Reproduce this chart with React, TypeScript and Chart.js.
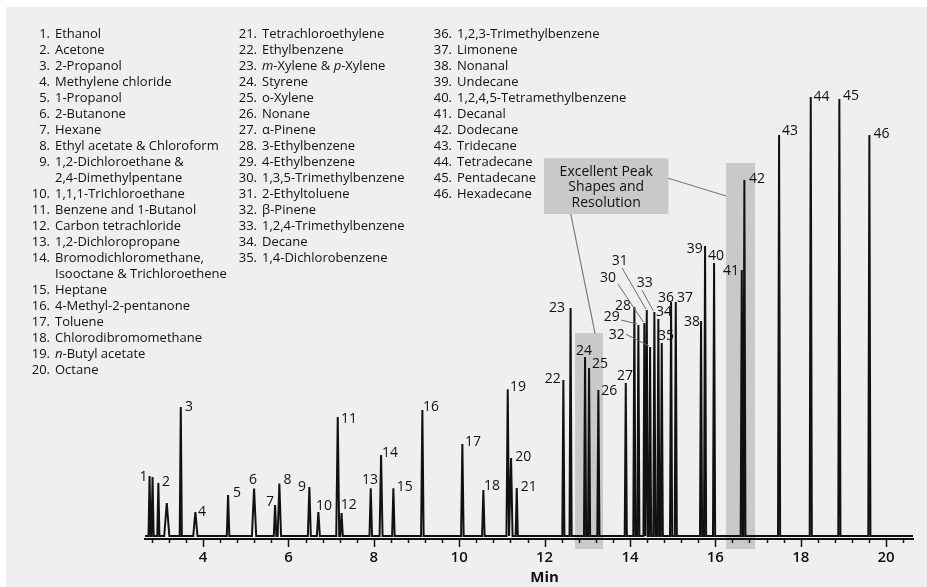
import React, { useEffect, useRef } from 'react';
import { Chart, registerables } from 'chart.js';

Chart.register(...registerables);

// ---------- DATA ----------
// Peak identifiers ('' = unlabeled peak)
const peakLabels = [
  '1', '', '2', '', '3', '4', '5', '6', '7', '8', '9', '10', '11', '12', '13', '14', '15', '16', '17', '18',
  '19', '20', '21', '22', '23', '24', '25', '26', '27', '28', '29', '30', '31', '32', '33', '34', '35', '36',
  '37', '38', '39', '40', '41', '42', '43', '44', '45', '46',
];
// Retention times (min)
const retentionTimes = [
  2.747, 2.817, 2.953, 3.15, 3.478, 3.82, 4.586, 5.195, 5.687, 5.787, 6.49, 6.701, 7.155, 7.244, 7.928, 8.17,
  8.458, 9.137, 10.074, 10.566, 11.137, 11.215, 11.348, 12.44, 12.609, 12.948, 13.042, 13.26, 13.902, 14.103,
  14.197, 14.337, 14.394, 14.471, 14.572, 14.665, 14.745, 14.963, 15.073, 15.665, 15.759, 15.97, 16.619, 16.68,
  17.493, 18.235, 18.905, 19.608,
];
// Peak heights (detector response, arbitrary units)
const peakHeights = [
  60, 59, 53, 33, 129, 24, 41, 47.5, 31, 52.5, 49, 24, 119, 23, 47.7, 81, 47.7, 126, 92, 46, 146.7, 78, 48, 156,
  228, 179, 168, 146, 153, 229, 211, 213, 226, 189, 224, 217, 193, 234, 234, 215, 290, 273, 266, 356, 401, 439,
  437, 401,
];
// Peak half-widths at base (min)
const peakHalfWidths = [
  0.025, 0.025, 0.025, 0.06, 0.025, 0.05, 0.03, 0.05, 0.03, 0.04, 0.035, 0.035, 0.035, 0.03, 0.03, 0.035, 0.03,
  0.03, 0.03, 0.03, 0.03, 0.035, 0.025, 0.025, 0.025, 0.025, 0.025, 0.025, 0.025, 0.025, 0.025, 0.022, 0.022,
  0.025, 0.025, 0.025, 0.025, 0.025, 0.025, 0.025, 0.025, 0.025, 0.025, 0.025, 0.025, 0.025, 0.025, 0.025,
];

const xMin = 2.64;
const xMax = 20.63;
const majorTicks = [4, 6, 8, 10, 12, 14, 16, 18, 20];
const minorTicks = [
  2.8, 3.2, 3.6, 4.4, 4.8, 5.2, 5.6, 6.4, 6.8, 7.2, 7.6, 8.4, 8.8, 9.2, 9.6, 10.4, 10.8, 11.2, 11.6, 12.4, 12.8,
  13.2, 13.6, 14.4, 14.8, 15.2, 15.6, 16.4, 16.8, 17.2, 17.6, 18.4, 18.8, 19.2, 19.6, 20.4,
];
const axisTitle = 'Min';

// Highlighted regions (min) and their tops (response units)
const highlightStart = [12.714, 16.251];
const highlightEnd = [13.37, 16.93];
const highlightTop = [203, 373];

const calloutLines = ['Excellent Peak', 'Shapes and', 'Resolution'];

const compounds = [
  'Ethanol', 'Acetone', '2-Propanol', 'Methylene chloride', '1-Propanol', '2-Butanone', 'Hexane',
  'Ethyl acetate & Chloroform', '1,2-Dichloroethane &\n2,4-Dimethylpentane', '1,1,1-Trichloroethane',
  'Benzene and 1-Butanol', 'Carbon tetrachloride', '1,2-Dichloropropane',
  'Bromodichloromethane,\nIsooctane & Trichloroethene', 'Heptane', '4-Methyl-2-pentanone', 'Toluene',
  'Chlorodibromomethane', '*n*-Butyl acetate', 'Octane',
  'Tetrachloroethylene', 'Ethylbenzene', '*m*-Xylene & *p*-Xylene', 'Styrene', 'o-Xylene', 'Nonane',
  'α-Pinene', '3-Ethylbenzene', '4-Ethylbenzene', '1,3,5-Trimethylbenzene', '2-Ethyltoluene', 'β-Pinene',
  '1,2,4-Trimethylbenzene', 'Decane', '1,4-Dichlorobenzene',
  '1,2,3-Trimethylbenzene', 'Limonene', 'Nonanal', 'Undecane', '1,2,4,5-Tetramethylbenzene', 'Decanal',
  'Dodecane', 'Tridecane', 'Tetradecane', 'Pentadecane', 'Hexadecane',
];

// ---------- STYLE / LAYOUT ----------
const FONT = '"Open Sans", "DejaVu Sans", sans-serif';
const BG = '#efefef';
const BOX = '#c9c9c9';
const INK = '#111111';

// label centre offsets from peak apex (px)
const labelDX = [
  -6, 0, 7.7, 0, 8.3, 6.7, 9, -1, -5, 8.2, -7.3, 5.7, 11.3, 7.2, -0.7, 9, 11.4, 8.7, 10.7, 8.7, 10.3, 12.3, 12.1,
  -10.5, -13.5, -1, 11, 11, -0.7, -11.3, -26.6, -36.3, -27, -33.3, -9.6, 5.7, 4.3, -5, 9.3, -9, -10.2, 2, -10.7,
  12.7, 11, 10.8, 11.7, 12.2,
];
const labelDY = [
  1.5, 0, -0.5, 0, 0, 0, -2, -8, -3.3, -3.5, 0, -6, 2.3, -8, -8.3, -2, -1.3, -3, -2, -4, -1.8, -0.5, -0.5, -0.5,
  0.5, -5.5, -4, 1.5, -7, -1, -7.5, -44.8, -49, -12.2, -29.2, -6.5, -6.5, -4.2, -4.2, 1.5, 3.5, -7, 1, -1, -4,
  0.5, -2.5, -1,
];
// leader line starts, relative to label centre (px), for labelled peaks that use leaders
const leaderPeaks = ['29', '30', '31', '32', '33'];
const leaderSX = [9.3, 9.7, 2.3, 9.3, -2.7];
const leaderSY = [2.5, 5.5, 7, -0.5, 7.5];

function buildTrace() {
  const order = retentionTimes.map((_, i) => i).sort((a, b) => retentionTimes[a] - retentionTimes[b]);
  const pts: { x: number; y: number }[] = [{ x: xMin, y: 0 }];
  for (const i of order) {
    const t = retentionTimes[i];
    const w = peakHalfWidths[i];
    pts.push({ x: t - w, y: 0 }, { x: t, y: peakHeights[i] }, { x: t + w, y: 0 });
  }
  pts.push({ x: xMax, y: 0 });
  return pts;
}

const overlayPlugin = {
  id: 'overlay',
  beforeDraw(chart: any) {
    const { ctx, scales } = chart;
    const x = scales.x;
    const y = scales.y;
    ctx.save();
    ctx.fillStyle = BOX;
    for (let i = 0; i < highlightStart.length; i++) {
      const x0 = x.getPixelForValue(highlightStart[i]);
      const x1 = x.getPixelForValue(highlightEnd[i]);
      const y0 = y.getPixelForValue(highlightTop[i]);
      const y1 = y.getPixelForValue(-13);
      ctx.fillRect(x0, y0, x1 - x0, y1 - y0);
    }
    ctx.restore();
  },
  afterDatasetsDraw(chart: any) {
    const { ctx, scales } = chart;
    const x = scales.x;
    const y = scales.y;
    ctx.save();
    ctx.font = `14px ${FONT}`;
    ctx.fillStyle = INK;
    ctx.textAlign = 'center';
    ctx.textBaseline = 'middle';
    for (let i = 0; i < peakLabels.length; i++) {
      const lab = peakLabels[i];
      if (!lab) continue;
      const px = x.getPixelForValue(retentionTimes[i]);
      const py = y.getPixelForValue(peakHeights[i]);
      const cx = px + labelDX[i];
      const cy = py + labelDY[i];
      const li = leaderPeaks.indexOf(lab);
      if (li >= 0) {
        ctx.strokeStyle = '#6a6a6a';
        ctx.lineWidth = 1;
        ctx.beginPath();
        ctx.moveTo(cx + leaderSX[li], cy + leaderSY[li]);
        ctx.lineTo(px - 1, py - 1);
        ctx.stroke();
      }
      ctx.fillText(lab, cx, cy);
    }
    ctx.restore();
  },
  afterDraw(chart: any) {
    const { ctx, scales, chartArea } = chart;
    const x = scales.x;
    const y = scales.y;
    const base = chartArea.bottom;
    ctx.save();
    // ticks
    ctx.strokeStyle = INK;
    ctx.lineWidth = 1.5;
    ctx.beginPath();
    for (const v of minorTicks) {
      const px = Math.round(x.getPixelForValue(v)) + 0.5;
      ctx.moveTo(px, base);
      ctx.lineTo(px, base + 4);
    }
    for (const v of majorTicks) {
      const px = Math.round(x.getPixelForValue(v)) + 0.5;
      ctx.moveTo(px, base);
      ctx.lineTo(px, base + 8);
    }
    ctx.stroke();
    // axis title
    ctx.font = `bold 15px ${FONT}`;
    ctx.fillStyle = INK;
    ctx.textAlign = 'center';
    ctx.textBaseline = 'middle';
    ctx.fillText(axisTitle, x.getPixelForValue(12), 578);
    // callout box
    const bx0 = x.getPixelForValue(11.988);
    const bx1 = x.getPixelForValue(14.9);
    const by0 = y.getPixelForValue(377.7);
    const by1 = y.getPixelForValue(322);
    ctx.strokeStyle = '#7a7a7a';
    ctx.lineWidth = 1.2;
    ctx.beginPath();
    ctx.moveTo(x.getPixelForValue(12.613), y.getPixelForValue(322));
    ctx.lineTo(x.getPixelForValue(13.182), y.getPixelForValue(202.7));
    ctx.moveTo(x.getPixelForValue(14.9), y.getPixelForValue(357.7));
    ctx.lineTo(x.getPixelForValue(16.251), y.getPixelForValue(340));
    ctx.stroke();
    ctx.fillStyle = BOX;
    ctx.fillRect(bx0, by0, bx1 - bx0, by1 - by0);
    ctx.fillStyle = INK;
    ctx.font = `14px ${FONT}`;
    const cx = (bx0 + bx1) / 2;
    calloutLines.forEach((line, k) => {
      ctx.fillText(line, cx, by0 + 13.5 + k * 15.5);
    });
    ctx.restore();
  },
};

function renderName(s: string) {
  const parts = s.split('*');
  return parts.map((p, i) => (i % 2 === 1 ? <i key={i}>{p}</i> : <React.Fragment key={i}>{p}</React.Fragment>));
}

function LegendColumn({ start, end, left }: { start: number; end: number; left: number }) {
  const rows = [];
  for (let i = start; i < end; i++) {
    rows.push(
      <div key={i} style={{ display: 'flex', alignItems: 'flex-start' }}>
        <span style={{ width: 30, textAlign: 'right', flex: 'none' }}>{i + 1}.</span>
        <span style={{ marginLeft: 5, whiteSpace: 'pre-line' }}>{renderName(compounds[i])}</span>
      </div>
    );
  }
  return (
    <div
      style={{
        position: 'absolute',
        left,
        top: 25,
        fontFamily: FONT,
        fontSize: 13,
        lineHeight: '16px',
        color: INK,
        whiteSpace: 'nowrap',
      }}
    >
      {rows}
    </div>
  );
}

export default function App() {
  const ref = useRef<HTMLCanvasElement>(null);
  useEffect(() => {
    document.body.style.margin = '0';
    const canvas = ref.current!;
    const chart = new Chart(canvas, {
      type: 'line',
      data: {
        datasets: [
          {
            data: buildTrace(),
            borderColor: INK,
            borderWidth: 2,
            pointRadius: 0,
            tension: 0,
            fill: false,
          },
        ],
      },
      options: {
        animation: false,
        responsive: false,
        events: [],
        layout: { padding: { left: 145, right: 14, top: 0, bottom: 0 } },
        plugins: { legend: { display: false }, tooltip: { enabled: false }, title: { display: false } },
        scales: {
          x: {
            type: 'linear',
            position: 'bottom',
            min: xMin,
            max: xMax,
            afterBuildTicks: (scale: any) => {
              scale.ticks = majorTicks.map((v) => ({ value: v }));
            },
            afterFit: (scale: any) => {
              scale.height = 48;
            },
            grid: { drawOnChartArea: false, drawTicks: true, tickLength: 8, color: 'rgba(0,0,0,0)' },
            border: { display: true, color: INK, width: 2 },
            ticks: {
              autoSkip: false,
              maxRotation: 0,
              padding: 2,
              color: INK,
              font: { family: FONT, size: 15, weight: '600' },
              callback: (v: any) => String(v),
            },
          },
          y: {
            type: 'linear',
            display: false,
            min: -3,
            max: 536,
          },
        },
      },
      plugins: [overlayPlugin],
    } as any);
    return () => chart.destroy();
  }, []);

  return (
    <div style={{ position: 'fixed', left: 0, top: 0, width: 927, height: 587, background: '#fff', overflow: 'hidden' }}>
      <div style={{ position: 'absolute', left: 6, top: 7, right: 0, bottom: 0, background: BG }} />
      <canvas
        ref={ref}
        width={927}
        height={587}
        style={{ position: 'absolute', left: 0, top: 0, width: 927, height: 587 }}
      />
      <LegendColumn start={0} end={20} left={20} />
      <LegendColumn start={20} end={35} left={227} />
      <LegendColumn start={35} end={46} left={422} />
    </div>
  );
}
